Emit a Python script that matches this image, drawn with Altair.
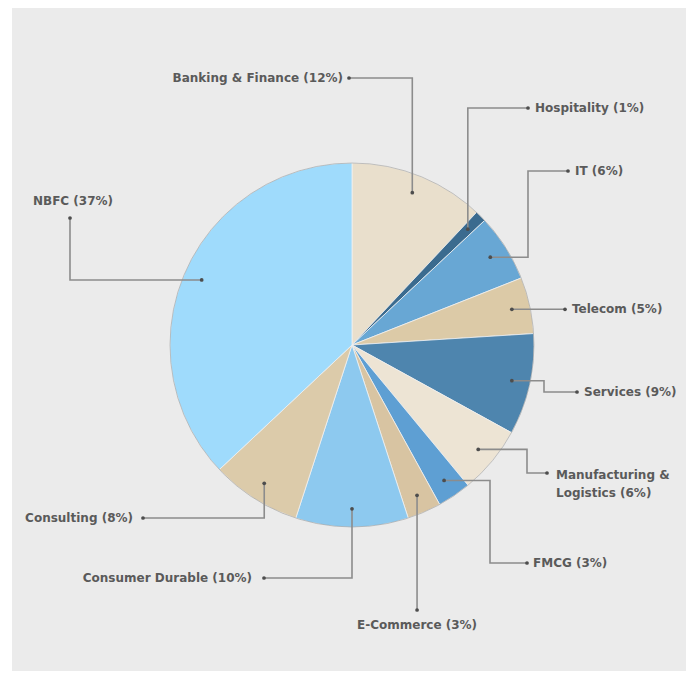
import math
import altair as alt
import pandas as pd

# ---- data ----
categories = ["Banking & Finance", "Hospitality", "IT", "Telecom", "Services",
              "Manufacturing & Logistics", "FMCG", "E-Commerce",
              "Consumer Durable", "Consulting", "NBFC"]
shares = [12, 1, 6, 5, 9, 6, 3, 3, 10, 8, 37]
colors = ["#e9dfcc", "#3b6b8f", "#68a7d4", "#dccaa7", "#4e85ae", "#ede4d4",
          "#5e9fd3", "#d8c4a2", "#8dc9ef", "#dccbaa", "#9fdbfc"]

# ---- layout (chart pixel space; page offset 8px) ----
W, H = 678, 663
OFF = 8
CX, CY, R = 352 - OFF, 345 - OFF, 182
RF = 0.9  # radius fraction of leader anchor points
routes = {
    "Banking & Finance": [("v", 78), ("h", 349)],
    "Hospitality": [("v", 108), ("h", 528)],
    "IT": [("h", 528), ("v", 171), ("h", 568)],
    "Telecom": [("h", 565)],
    "Services": [("h", 544), ("v", 392), ("h", 577)],
    "Manufacturing & Logistics": [("h", 527), ("v", 473), ("h", 547)],
    "FMCG": [("h", 490), ("v", 563), ("h", 527)],
    "E-Commerce": [("v", 610)],
    "Consumer Durable": [("v", 578), ("h", 264)],
    "Consulting": [("v", 518), ("h", 143)],
    "NBFC": [("h", 70), ("v", 218)],
}
label_place = {
    "Banking & Finance": ("right", -6, 0),
    "Hospitality": ("left", 7, 0),
    "IT": ("left", 7, 0),
    "Telecom": ("left", 7, 0),
    "Services": ("left", 7, 0),
    "Manufacturing & Logistics": ("left", 9, 2),
    "FMCG": ("left", 6, 0),
    "E-Commerce": ("center", 0, 15),
    "Consumer Durable": ("right", -12, 0),
    "Consulting": ("right", -10, 0),
    "NBFC": ("center", 3, -17),
}
wrap = {"Manufacturing & Logistics": "Manufacturing &\nLogistics"}

# ---- build tables ----
slices = pd.DataFrame({"idx": range(len(categories)), "category": categories, "value": shares})

total = sum(shares)
line_rows, dot_rows, text_rows = [], [], []
cum = 0
for i, (c, v) in enumerate(zip(categories, shares)):
    mid = (cum + v / 2) / total * 2 * math.pi
    cum += v
    x = CX + RF * R * math.sin(mid)
    y = CY - RF * R * math.cos(mid)
    pts = [(x, y)]
    for kind, val in routes[c]:
        if kind == "h":
            x = val - OFF
        else:
            y = val - OFF
        pts.append((x, y))
    for s, (px, py) in enumerate(pts):
        line_rows.append({"category": c, "step": s, "px": px, "py": py})
    dot_rows.append({"category": c, "px": pts[0][0], "py": pts[0][1]})
    dot_rows.append({"category": c, "px": pts[-1][0], "py": pts[-1][1]})
    align, dx, dy = label_place[c]
    name = wrap.get(c, c)
    text_rows.append({"category": c, "label": f"{name} ({v}%)", "align": align,
                      "px": pts[-1][0] + dx, "py": pts[-1][1] + dy})

lines = pd.DataFrame(line_rows)
dots = pd.DataFrame(dot_rows)
texts = pd.DataFrame(text_rows)

xs = alt.Scale(domain=[0, W], nice=False, zero=False)
ys = alt.Scale(domain=[0, H], nice=False, zero=False, reverse=True)
X = alt.X("px:Q", scale=xs, axis=None)
Y = alt.Y("py:Q", scale=ys, axis=None)

bg = alt.Chart(alt.Data(values=[{}])).mark_rect(color="#ebebeb").encode(
    x=alt.value(4), x2=alt.value(W), y=alt.value(0), y2=alt.value(H))

pie = alt.Chart(slices).mark_arc(radius=R, stroke="#f0f0f0", strokeWidth=0.8).encode(
    theta=alt.Theta("value:Q", stack=True),
    order=alt.Order("idx:Q"),
    color=alt.Color("category:N", scale=alt.Scale(domain=categories, range=colors), legend=None),
    x=alt.value(CX), y=alt.value(CY),
)

rim = alt.Chart(alt.Data(values=[{}])).mark_arc(
    radius=R, fillOpacity=0, stroke="#7a7a7a", strokeWidth=0.7, strokeOpacity=0.6
).encode(theta=alt.value(0), theta2=alt.value(2 * math.pi), x=alt.value(CX), y=alt.value(CY))

leader = alt.Chart(lines).mark_line(color="#8c8c8c", strokeWidth=1.6).encode(
    x=X, y=Y, detail="category:N", order="step:Q")

dot = alt.Chart(dots).mark_circle(color="#4d4d4d", size=14, opacity=1).encode(x=X, y=Y)

def text_layer(al):
    return alt.Chart(texts).transform_filter(alt.datum.align == al).mark_text(
        align=al, baseline="middle", font="DejaVu Sans", fontSize=12, fontWeight="bold",
        color="#5a5a5a", lineBreak="\n", lineHeight=18
    ).encode(x=X, y=Y, text="label:N")

chart = alt.layer(bg, pie, rim, leader, dot, text_layer("left"), text_layer("right"),
                  text_layer("center")).properties(
    width=W, height=H, padding=0, autosize=alt.AutoSizeParams(type="none"),
    background="white"
).configure_view(stroke=None)

chart.save("out.html", embed_options={"renderer": "svg", "actions": False})
